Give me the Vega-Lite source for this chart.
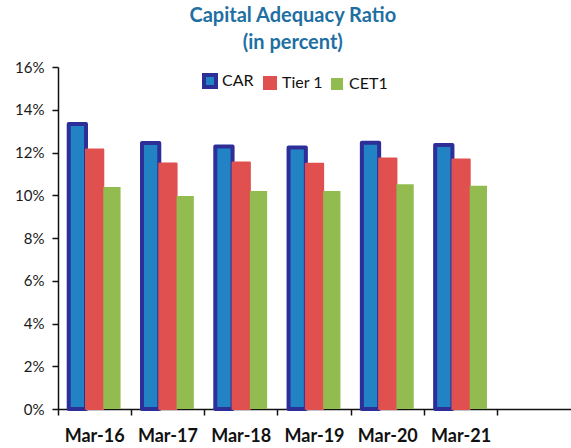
{
  "$schema": "https://vega.github.io/schema/vega-lite/v6.json",
  "width": 513,
  "height": 342,
  "autosize": {"type": "none"},
  "padding": {"left": 58, "top": 67, "right": 0, "bottom": 39},
  "background": "white",
  "title": {
    "text": ["Capital Adequacy Ratio", "(in percent)"],
    "font": "Lato",
    "fontSize": 20,
    "fontWeight": "bold",
    "color": "#1F6FA3",
    "lineHeight": 27,
    "frame": "bounds",
    "anchor": "middle",
    "offset": 7
  },
  "config": {"view": {"stroke": null}},
  "data": {
    "values": [
      {"date": "Mar-16", "series": "CAR", "value": 13.33},
      {"date": "Mar-16", "series": "Tier 1", "value": 12.14},
      {"date": "Mar-16", "series": "CET1", "value": 10.39},
      {"date": "Mar-17", "series": "CAR", "value": 12.45},
      {"date": "Mar-17", "series": "Tier 1", "value": 11.48},
      {"date": "Mar-17", "series": "CET1", "value": 9.97},
      {"date": "Mar-18", "series": "CAR", "value": 12.28},
      {"date": "Mar-18", "series": "Tier 1", "value": 11.53},
      {"date": "Mar-18", "series": "CET1", "value": 10.2},
      {"date": "Mar-19", "series": "CAR", "value": 12.23},
      {"date": "Mar-19", "series": "Tier 1", "value": 11.47},
      {"date": "Mar-19", "series": "CET1", "value": 10.2},
      {"date": "Mar-20", "series": "CAR", "value": 12.46},
      {"date": "Mar-20", "series": "Tier 1", "value": 11.72},
      {"date": "Mar-20", "series": "CET1", "value": 10.52},
      {"date": "Mar-21", "series": "CAR", "value": 12.35},
      {"date": "Mar-21", "series": "Tier 1", "value": 11.67},
      {"date": "Mar-21", "series": "CET1", "value": 10.44}
    ]
  },
  "mark": {"type": "bar", "strokeJoin": "round"},
  "encoding": {
    "x": {
      "field": "date",
      "type": "nominal",
      "sort": null,
      "scale": {
        "domain": ["Mar-16", "Mar-17", "Mar-18", "Mar-19", "Mar-20", "Mar-21", "blank"],
        "paddingInner": 0,
        "paddingOuter": 0
      },
      "axis": {
        "title": null,
        "labelAngle": 0,
        "bandPosition": 0,
        "labelOffset": 0,
        "labelExpr": "datum.value == 'blank' ? '' : datum.value",
        "labelFont": "Lato",
        "labelFontSize": 18,
        "labelFontWeight": "bold",
        "labelColor": "#111111",
        "labelPadding": 12,
        "tickSize": 6,
        "tickColor": "#111111",
        "domainColor": "#111111",
        "domainWidth": 1.5,
        "tickWidth": 1.5
      }
    },
    "xOffset": {
      "field": "series",
      "type": "nominal",
      "sort": null,
      "scale": {"domain": ["CAR", "Tier 1", "CET1"], "paddingInner": 0, "paddingOuter": 0.62}
    },
    "y": {
      "field": "value",
      "type": "quantitative",
      "scale": {"domain": [0, 16], "nice": false},
      "axis": {
        "title": null,
        "values": [0, 2, 4, 6, 8, 10, 12, 14, 16],
        "labelExpr": "datum.value + '%'",
        "grid": false,
        "labelFont": "Lato",
        "labelFontSize": 15,
        "labelColor": "#1a1a1a",
        "labelPadding": 8,
        "tickSize": 6,
        "tickColor": "#111111",
        "domainColor": "#111111",
        "domainWidth": 1.5,
        "tickWidth": 1.5
      }
    },
    "color": {
      "field": "series",
      "type": "nominal",
      "sort": null,
      "scale": {"domain": ["CAR", "Tier 1", "CET1"], "range": ["#2283C4", "#E0504F", "#92BC50"]},
      "legend": {
        "orient": "none",
        "legendX": 144,
        "legendY": 6,
        "direction": "horizontal",
        "title": null,
        "labelFont": "Lato",
        "labelFontSize": 16,
        "labelColor": "#111111",
        "symbolType": "square",
        "symbolSize": 144,
        "labelOffset": 4,
        "columnPadding": 6,
        "padding": 0
      }
    },
    "stroke": {
      "field": "series",
      "type": "nominal",
      "sort": null,
      "scale": {"domain": ["CAR", "Tier 1", "CET1"], "range": ["#2E2E99", "#E0504F", "#92BC50"]},
      "legend": {
        "orient": "none",
        "legendX": 144,
        "legendY": 6,
        "direction": "horizontal",
        "title": null,
        "labelFont": "Lato",
        "labelFontSize": 16,
        "labelColor": "#111111",
        "symbolType": "square",
        "symbolSize": 144,
        "labelOffset": 4,
        "columnPadding": 6,
        "padding": 0
      }
    },
    "strokeWidth": {
      "field": "series",
      "type": "nominal",
      "sort": null,
      "scale": {"domain": ["CAR", "Tier 1", "CET1"], "range": [4, 0, 0]},
      "legend": {
        "orient": "none",
        "legendX": 144,
        "legendY": 6,
        "direction": "horizontal",
        "title": null,
        "labelFont": "Lato",
        "labelFontSize": 16,
        "labelColor": "#111111",
        "symbolType": "square",
        "symbolSize": 144,
        "labelOffset": 4,
        "columnPadding": 6,
        "padding": 0
      }
    }
  }
}
